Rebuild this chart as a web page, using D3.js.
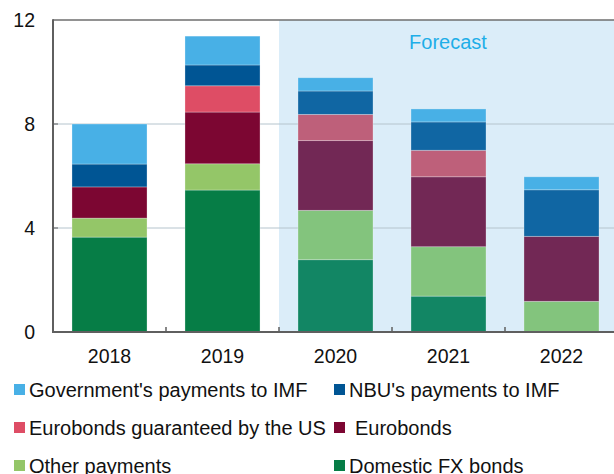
<!DOCTYPE html>
<html>
<head>
<meta charset="utf-8">
<script src="https://cdnjs.cloudflare.com/ajax/libs/d3/7.8.5/d3.min.js"></script>
<style>
  body { margin: 0; background: #fff; }
  text { font-family: "Liberation Sans", Arial, sans-serif; fill: #111; }
</style>
</head>
<body>
<div id="sandbox"></div>
<script>
// Chart data
var years = ['2018', '2019', '2020', '2021', '2022'];
var forecastYears = ['2020', '2021', '2022'];
var yTicks = [0, 4, 8, 12];

var domesticFx = [3.65, 5.46, 2.78, 1.38, 0];
var otherPayments = [0.73, 1.01, 1.90, 1.90, 1.18];
var eurobonds = [1.20, 1.99, 2.68, 2.69, 2.50];
var eurobondsUs = [0, 1.01, 1.01, 1.02, 0];
var nbuImf = [0.88, 0.80, 0.90, 1.09, 1.79];
var govImf = [1.54, 1.11, 0.51, 0.50, 0.50];

// series in stacking order, bottom to top
var seriesKeys = ['domestic', 'other', 'euro', 'euroUs', 'nbu', 'gov'];
var seriesValues = {
  domestic: domesticFx, other: otherPayments, euro: eurobonds,
  euroUs: eurobondsUs, nbu: nbuImf, gov: govImf
};

// colours: actual years / forecast years
var colors = {
  gov: ['#48b0e6', '#48b0e6'],
  nbu: ['#005594', '#1066a3'],
  euroUs: ['#de4d65', '#be607a'],
  euro: ['#7c0632', '#722855'],
  other: ['#94c668', '#83c47d'],
  domestic: ['#067d46', '#128664']
};

// legend rows
var legendItems = [
  { key: 'gov', label: "Government's payments to IMF", col: 0, row: 0 },
  { key: 'nbu', label: "NBU's payments to IMF", col: 1, row: 0 },
  { key: 'euroUs', label: 'Eurobonds guaranteed by the US', col: 0, row: 1 },
  { key: 'euro', label: 'Eurobonds', col: 1, row: 1 },
  { key: 'other', label: 'Other payments', col: 0, row: 2 },
  { key: 'domestic', label: 'Domestic FX bonds', col: 1, row: 2 }
];

var width = 614, height = 474;
var plotLeft = 53, plotTop = 20, plotBottom = 332, plotRight = 618;

var svg = d3.select('#sandbox').append('svg')
    .attr('width', width)
    .attr('height', height);

// scales
var x = d3.scaleBand()
    .domain(years)
    .range([plotLeft, plotRight])
    .paddingInner(0.336)
    .paddingOuter(0.168);

var y = d3.scaleLinear()
    .domain([0, 12])
    .range([plotBottom, plotTop]);

var step = x.step();

// forecast shading
var fx0 = x(forecastYears[0]) - step * x.paddingInner() / 2;
svg.append('rect')
    .attr('x', fx0)
    .attr('y', y(12))
    .attr('width', width - fx0)
    .attr('height', y(0) - y(12))
    .style('fill', '#dbedf9');

svg.append('text')
    .attr('x', 448)
    .attr('y', 49)
    .attr('text-anchor', 'middle')
    .style('font-size', '20px')
    .style('fill', '#1eaee8')
    .text('Forecast');

// gridlines
svg.selectAll('.grid')
    .data([4, 8])
    .enter().append('line')
    .attr('x1', plotLeft)
    .attr('x2', width)
    .attr('y1', function(d) { return y(d); })
    .attr('y2', function(d) { return y(d); })
    .style('stroke', '#b5c4cd')
    .style('stroke-width', 1);

// top frame line
svg.append('line')
    .attr('x1', plotLeft)
    .attr('x2', width)
    .attr('y1', y(12))
    .attr('y2', y(12))
    .style('stroke', '#6e6e6e')
    .style('stroke-width', 1.5);

// stacked bars
var table = years.map(function(yr, i) {
  var row = { year: yr };
  seriesKeys.forEach(function(k) { row[k] = seriesValues[k][i]; });
  return row;
});

var stacked = d3.stack().keys(seriesKeys)(table);

svg.selectAll('.layer')
    .data(stacked)
    .enter().append('g')
    .each(function(layer) {
      d3.select(this).selectAll('rect')
        .data(layer.filter(function(d) { return d[1] - d[0] > 0; }))
        .enter().append('rect')
        .attr('x', function(d) { return x(d.data.year); })
        .attr('y', function(d) { return y(d[1]); })
        .attr('width', x.bandwidth())
        .attr('height', function(d) { return y(d[0]) - y(d[1]); })
        .style('fill', function(d) {
          var f = forecastYears.indexOf(d.data.year) >= 0 ? 1 : 0;
          return colors[layer.key][f];
        })
        .style('stroke', 'rgba(255,255,255,0.35)')
        .style('stroke-width', 0.8);
    });

// axes
var axis = svg.append('g');
axis.append('line')
    .attr('x1', plotLeft).attr('x2', plotLeft)
    .attr('y1', y(12) - 0.75).attr('y2', plotBottom + 1)
    .style('stroke', '#5f5f5f').style('stroke-width', 2);
axis.append('line')
    .attr('x1', plotLeft).attr('x2', width)
    .attr('y1', plotBottom).attr('y2', plotBottom)
    .style('stroke', '#5f5f5f').style('stroke-width', 2);

// y ticks and labels
svg.selectAll('.ytick')
    .data(yTicks.slice(1, 3))
    .enter().append('line')
    .attr('x1', plotLeft).attr('x2', plotLeft + 5)
    .attr('y1', function(d) { return y(d); })
    .attr('y2', function(d) { return y(d); })
    .style('stroke', '#5f5f5f').style('stroke-width', 1);

svg.selectAll('.ylabel')
    .data(yTicks)
    .enter().append('text')
    .attr('x', 35)
    .attr('y', function(d) { return y(d) + 7; })
    .attr('text-anchor', 'end')
    .style('font-size', '19.5px')
    .text(function(d) { return d; });

// x ticks between categories
svg.selectAll('.xtick')
    .data(years.slice(1))
    .enter().append('line')
    .attr('x1', function(d) { return x(d) - step * x.paddingInner() / 2; })
    .attr('x2', function(d) { return x(d) - step * x.paddingInner() / 2; })
    .attr('y1', plotBottom - 5).attr('y2', plotBottom)
    .style('stroke', '#5f5f5f').style('stroke-width', 1.5);

svg.selectAll('.xlabel')
    .data(years)
    .enter().append('text')
    .attr('x', function(d) { return x(d) + x.bandwidth() / 2; })
    .attr('y', 363)
    .attr('text-anchor', 'middle')
    .style('font-size', '19.5px')
    .text(function(d) { return d; });

// legend
var legend = svg.selectAll('.legend')
    .data(legendItems)
    .enter().append('g')
    .attr('transform', function(d) {
      return 'translate(' + (d.col ? 334 : 14) + ',' + (384 + d.row * 38) + ')';
    });

legend.append('rect')
    .attr('width', 11)
    .attr('height', 11)
    .style('fill', function(d) { return colors[d.key][0]; });

legend.append('text')
    .attr('x', function(d) { return d.key === 'euro' ? 21 : 15; })
    .attr('y', 12.5)
    .style('font-size', '20px')
    .text(function(d) { return d.label; });
</script>
</body>
</html>
